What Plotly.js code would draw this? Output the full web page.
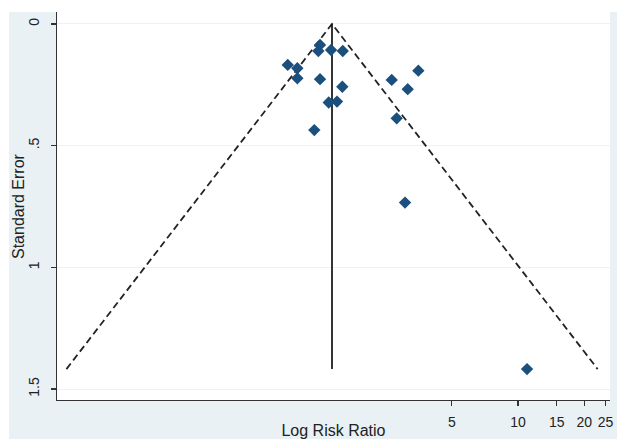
<!DOCTYPE html>
<html>
<head>
<meta charset="utf-8">
<script src="https://cdn.plot.ly/plotly-3.0.1.min.js"></script>
<style>html,body{margin:0;padding:0;background:#fff;}#chart{width:617px;height:439px;}</style>
</head>
<body>
<div id="chart"></div>
<script>
// Study estimates (risk ratio, standard error)
const studyRR = [0.898, 0.993, 0.993, 1.259, 1.237, 1.413, 1.597, 1.259, 1.590, 1.379, 1.504, 1.186, 3.523, 2.666, 3.152, 2.809, 3.065, 10.99];
const studySE = [0.1685, 0.182, 0.223, 0.0863, 0.111, 0.107, 0.111, 0.227, 0.258, 0.323, 0.319, 0.436, 0.192, 0.230, 0.268, 0.388, 0.734, 1.418];
// Pooled estimate and pseudo 95% confidence limits
const pooledRR = [1.427, 1.427];
const pooledSE = [0, 1.418];
const funnelRR = [0.0886, 1.427, 23.0];
const funnelSE = [1.418, 0, 1.418];
// Axis ticks and titles
const xTickVals = [5, 10, 15, 20, 25];
const xTickText = ['5', '10', '15', '20', '25'];
const yTickVals = [0, 0.5, 1, 1.5];
const yTickText = ['0', '.5', '1', '1.5'];
const xTitle = 'Log Risk Ratio';
const yTitle = 'Standard Error';

const font = 'Liberation Sans, Arial, sans-serif';
const traces = [
  {x: funnelRR, y: funnelSE, mode: 'lines', type: 'scatter',
   line: {color: '#222', width: 1.8, dash: '7px,4px'}, hoverinfo: 'skip'},
  {x: pooledRR, y: pooledSE, mode: 'lines', type: 'scatter',
   line: {color: '#111', width: 1.7}, hoverinfo: 'skip'},
  {x: studyRR, y: studySE, mode: 'markers', type: 'scatter',
   marker: {symbol: 'diamond', size: 9.5, color: '#1b4f7e'}}
];
const layout = {
  width: 617, height: 439,
  margin: {l: 57, r: 7, t: 12, b: 39},
  paper_bgcolor: '#e9f1f4',
  plot_bgcolor: '#ffffff',
  showlegend: false,
  font: {family: font, size: 14, color: '#222'},
  xaxis: {
    type: 'log', range: [-1.0955, 1.418],
    tickvals: xTickVals, ticktext: xTickText,
    ticks: 'outside', ticklen: 5, tickcolor: '#333', tickwidth: 1.2,
    showline: true, linecolor: '#333', linewidth: 1.4,
    showgrid: false, zeroline: false,
    tickfont: {size: 14, color: '#222'},
    ticklabelstandoff: 4,
    title: {text: xTitle, font: {size: 16, color: '#222'}, standoff: 1}
  },
  yaxis: {
    range: [1.545, -0.049],
    tickvals: yTickVals, ticktext: yTickText,
    tickangle: -90,
    ticks: 'outside', ticklen: 5, tickcolor: '#333', tickwidth: 1.2,
    showline: true, linecolor: '#333', linewidth: 1.4,
    showgrid: true, gridcolor: '#edf3f5', gridwidth: 1,
    zeroline: false,
    tickfont: {size: 14, color: '#222'},
    ticklabelstandoff: 6
  },
  annotations: [
    {text: yTitle, xref: 'paper', yref: 'paper', x: -0.0705, y: 0.5,
     xanchor: 'center', yanchor: 'middle', textangle: -90, showarrow: false,
     font: {size: 16, color: '#222', family: font}}
  ],
  shapes: [
    {type: 'rect', xref: 'paper', yref: 'paper', x0: -0.2, x1: 1.1, y0: 1.0, y1: 1.1,
     fillcolor: '#ffffff', line: {width: 0}, layer: 'below'},
    {type: 'rect', xref: 'paper', yref: 'paper', x0: -0.2, x1: -0.0866, y0: -0.2, y1: 1.1,
     fillcolor: '#ffffff', line: {width: 0}, layer: 'below'}
  ]
};
Plotly.newPlot('chart', traces, layout, {displayModeBar: false, staticPlot: true});
</script>
</body>
</html>
